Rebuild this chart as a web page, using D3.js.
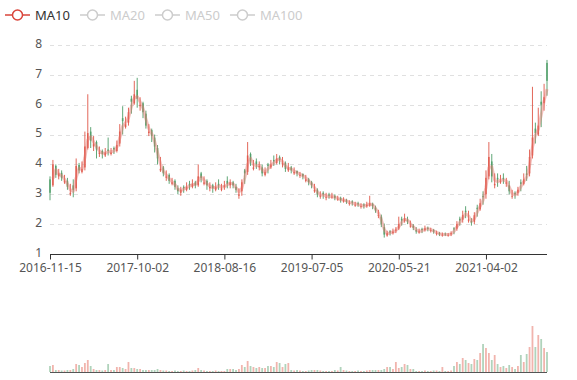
<!DOCTYPE html>
<html><head><meta charset="utf-8">
<script src="https://cdn.jsdelivr.net/npm/d3@7/dist/d3.min.js"></script>
<style>body{margin:0;background:#fff}svg{display:block}</style>
</head><body><svg id="c" width="577" height="380"></svg>
<script>
// ---- data (one candle ≈ 7 trading days) ----
const tickLabels = ["2016-11-15","2017-10-02","2018-08-16","2019-07-05","2020-05-21","2021-04-02"];
const tickEvery = 30;
const legendNames = ["MA10","MA20","MA50","MA100"];
const open = [
3.50,3.30,3.95,3.60,3.72,3.40,3.45,3.00,3.30,3.20,
3.98,3.75,3.90,4.55,5.10,4.60,4.75,4.35,4.45,4.30,
4.50,4.35,4.55,4.45,4.70,5.55,5.25,5.40,6.20,6.05,
6.50,5.95,6.05,5.70,5.05,5.15,4.90,4.55,3.80,3.90,
3.55,3.65,3.35,3.45,3.20,3.05,3.25,3.15,3.35,3.25,
3.40,3.30,3.70,3.35,3.45,3.20,3.30,3.15,3.35,3.15,
3.25,3.45,3.30,3.40,3.25,2.95,3.10,3.80,3.75,4.35,
3.85,4.10,3.90,3.90,3.65,4.00,3.90,4.15,4.05,4.25,
4.00,4.05,3.80,3.90,3.70,3.78,3.62,3.68,3.45,3.50,
3.40,3.10,3.15,2.92,3.05,2.88,3.00,2.90,2.95,2.82,
2.88,2.76,2.80,2.68,2.76,2.62,2.70,2.58,2.66,2.60,
2.62,2.68,2.55,2.28,2.25,1.90,1.62,1.76,1.70,1.78,
1.85,2.18,2.10,2.15,1.92,1.95,1.80,1.72,1.84,1.80,
1.88,1.78,1.80,1.68,1.70,1.62,1.68,1.62,1.66,1.86,
1.85,2.18,2.15,2.45,2.12,2.10,2.08,2.55,2.50,2.95,
3.00,3.60,4.10,3.30,3.55,3.40,3.55,3.35,3.30,2.92,
3.05,3.05,3.40,3.35,3.70,3.70,4.30,5.20,5.00,6.10,
6.05,7.40];
const close = [
3.05,4.00,3.65,3.70,3.55,3.45,3.25,3.05,3.15,3.95,
3.80,3.85,4.60,5.05,4.80,4.70,4.50,4.40,4.35,4.40,
4.45,4.40,4.50,4.65,5.10,5.45,5.35,5.75,6.10,6.35,
6.20,6.00,5.75,5.30,5.10,4.95,4.60,4.20,3.85,3.70,
3.60,3.45,3.40,3.25,3.10,3.15,3.20,3.25,3.30,3.35,
3.30,3.60,3.55,3.40,3.30,3.25,3.20,3.25,3.30,3.20,
3.30,3.35,3.40,3.30,3.15,3.00,3.40,3.70,4.30,4.10,
3.90,4.00,3.95,3.70,3.75,3.95,4.00,4.10,4.20,4.15,
4.05,3.85,3.90,3.80,3.75,3.70,3.65,3.60,3.50,3.40,
3.30,3.15,3.00,2.95,3.00,2.90,2.95,2.92,2.88,2.85,
2.80,2.82,2.75,2.70,2.72,2.65,2.66,2.60,2.62,2.65,
2.70,2.60,2.45,2.30,2.00,1.65,1.70,1.72,1.75,1.82,
2.00,2.12,2.20,2.08,1.95,1.88,1.75,1.76,1.80,1.86,
1.84,1.80,1.75,1.70,1.66,1.65,1.66,1.64,1.70,1.82,
2.00,2.12,2.30,2.40,2.15,2.05,2.30,2.50,2.70,2.90,
3.55,4.25,3.60,3.35,3.50,3.45,3.50,3.40,3.10,2.95,
3.00,3.15,3.35,3.50,3.65,4.25,4.90,5.05,5.30,6.00,
6.25,6.80];
const high = [
3.60,4.15,4.00,3.85,3.80,3.65,3.55,3.35,3.50,4.20,
4.05,4.10,5.10,6.35,5.25,4.95,4.80,4.60,4.50,4.55,
4.90,4.55,4.60,4.80,5.35,5.95,5.60,5.90,6.30,6.80,
6.90,6.25,6.10,5.80,5.35,5.20,5.00,4.65,4.25,3.95,
3.80,3.70,3.55,3.50,3.30,3.25,3.30,3.40,3.45,3.50,
3.45,4.00,3.75,3.60,3.50,3.40,3.35,3.40,3.50,3.35,
3.45,3.60,3.50,3.45,3.35,3.20,3.50,3.85,4.75,4.40,
4.15,4.20,4.10,4.00,3.90,4.05,4.15,4.30,4.35,4.30,
4.25,4.10,4.05,3.95,3.90,3.80,3.75,3.70,3.65,3.55,
3.45,3.35,3.20,3.10,3.10,3.05,3.05,3.05,3.00,2.95,
2.92,2.90,2.85,2.80,2.80,2.75,2.75,2.70,2.70,2.75,
2.95,2.72,2.62,2.48,2.32,2.02,1.78,1.80,1.85,1.90,
2.25,2.25,2.35,2.25,2.12,2.00,1.90,1.85,1.88,1.95,
1.92,1.88,1.84,1.78,1.74,1.72,1.72,1.70,1.76,1.90,
2.10,2.25,2.45,2.60,2.45,2.20,2.40,2.65,2.85,3.10,
3.80,4.75,4.35,3.70,3.70,3.65,3.70,3.55,3.45,3.15,
3.10,3.25,3.50,3.70,3.95,4.50,6.60,5.40,5.90,6.45,
6.70,7.50];
const low = [
2.80,3.25,3.55,3.50,3.45,3.35,3.15,2.95,2.90,3.10,
3.70,3.70,3.80,4.50,4.55,4.45,4.20,4.25,4.20,4.25,
4.30,4.30,4.35,4.40,4.60,5.00,5.20,5.30,5.70,6.00,
5.90,5.80,5.55,5.20,4.95,4.75,4.40,4.00,3.75,3.60,
3.45,3.35,3.30,3.15,3.00,2.95,3.05,3.10,3.15,3.20,
3.20,3.25,3.40,3.30,3.15,3.10,3.05,3.10,3.15,3.10,
3.15,3.20,3.20,3.20,3.05,2.85,2.95,3.35,3.65,3.95,
3.80,3.85,3.80,3.60,3.60,3.70,3.85,3.95,4.00,4.00,
3.90,3.75,3.75,3.70,3.65,3.60,3.55,3.50,3.40,3.30,
3.20,3.05,2.90,2.85,2.85,2.80,2.85,2.85,2.80,2.78,
2.72,2.72,2.68,2.62,2.62,2.58,2.58,2.52,2.52,2.55,
2.58,2.50,2.38,2.20,1.90,1.55,1.58,1.62,1.65,1.70,
1.80,1.95,2.05,2.00,1.88,1.80,1.68,1.68,1.70,1.75,
1.76,1.72,1.68,1.62,1.60,1.58,1.60,1.58,1.60,1.66,
1.78,1.95,2.05,2.20,2.05,1.95,2.00,2.25,2.45,2.65,
2.85,3.50,3.40,3.20,3.25,3.35,3.35,3.25,3.00,2.85,
2.85,2.95,3.10,3.30,3.45,3.60,4.20,4.70,4.95,5.25,
5.80,6.30];
const volume = [
6,7,2,2,1.5,1.5,2,2,3,8,
7,5,9,12,6,3,2,2,1.5,2,
8,2,2,5,5,4,3,10,4,4,
3,3,2,2,2,2,2,3,2,1.5,
1.5,1,1,1.5,1,1,1.5,1,1,1.5,
2,4,2,1.5,1,1,1,1.5,1,1,
1,3,3,3,2,3,7,5,11,6,
5,4,5,4,4,6,6,5,10,9,
5,8,9,2,1.5,2,1.5,1,1,1.5,
2,2,2,1.5,1,1,1,1,2,1.5,
5,2,1.5,1,1,1,1.5,1,1,1.5,
2,2,2,2,2,3,5,5,3,10,
4,5,8,7,3,3,1,1,1,1.5,
1,1,1.5,1.5,1,5,1,1,1.5,6,
10,8,14,12,9,8,13,12,19,28,
24,19,12,17,8,5,6,4,7,5,
3,6,17,10,18,25,46,25,37,33,
24,20];

// ---- drawing ----
const svg = d3.select("#c");
const left = 50, right = 547;
const upColor = "#e0584a", downColor = "#4f9e69";
const maColor = "#d9443a";
const font = "'Microsoft YaHei','Noto Sans',sans-serif";
const N = close.length;
const idx = d3.range(N);

const x = d3.scalePoint().domain(idx).range([left, right]);
const y = d3.scaleLinear().domain([1, 8]).range([254, 45]);
const yv = d3.scaleLinear().domain([0, 72]).range([372, 300]);

// gridlines
svg.append("g").selectAll("line").data(y.ticks(7)).join("line")
  .attr("x1", left).attr("x2", right)
  .attr("y1", d => Math.round(y(d)) + 0.5).attr("y2", d => Math.round(y(d)) + 0.5)
  .attr("stroke", "#e0e0e0").attr("stroke-dasharray", "4,4");

// y axis labels
const ya = svg.append("g").attr("transform", `translate(${left},-1.5)`)
  .call(d3.axisLeft(y).ticks(7).tickSize(0).tickPadding(8).tickFormat(d3.format("d")));
ya.select(".domain").remove();
ya.selectAll("text").attr("font-family", font).attr("font-size", 12).attr("fill", "#555");

// x axis
const xa = svg.append("g").attr("transform", `translate(0,${Math.round(y(1)) + 0.5})`)
  .call(d3.axisBottom(x).tickValues(idx.filter(i => i % tickEvery === 0 && i / tickEvery < tickLabels.length))
    .tickFormat(i => tickLabels[i / tickEvery]).tickSize(5).tickSizeOuter(0).tickPadding(4));
xa.select(".domain").attr("stroke", "#333").attr("d", `M${left},0H${right}`);
xa.selectAll(".tick line").attr("stroke", "#333");
xa.selectAll("text").attr("font-family", font).attr("font-size", 12).attr("fill", "#555");

// candles
const bw = 1.6;
const cg = svg.append("g");
idx.forEach(i => {
  const up = close[i] >= open[i];
  const col = up ? upColor : downColor;
  const cx = x(i);
  cg.append("line").attr("x1", cx).attr("x2", cx)
    .attr("y1", y(high[i])).attr("y2", y(low[i]))
    .attr("stroke", col).attr("stroke-width", 1).attr("opacity", 0.9);
  const yt = y(Math.max(open[i], close[i])), yb = y(Math.min(open[i], close[i]));
  cg.append("rect").attr("x", cx - bw / 2).attr("y", yt)
    .attr("width", bw).attr("height", Math.max(0.8, yb - yt))
    .attr("fill", col).attr("opacity", 0.9);
});

// MA line (moving average of the candle closes)
const ma = idx.map(i => i < 1 ? null : d3.mean(close.slice(i - 1, i + 1)));
svg.append("path").datum(idx.filter(i => ma[i] != null))
  .attr("d", d3.line().x(i => x(i)).y(i => y(ma[i])))
  .attr("fill", "none").attr("stroke", "#e4766c").attr("stroke-width", 3)
  .attr("stroke-opacity", 0.45).attr("stroke-linejoin", "round");

// volume
svg.append("g").selectAll("rect").data(idx).join("rect")
  .attr("x", i => x(i) - 0.9).attr("width", 1.8)
  .attr("y", i => yv(volume[i])).attr("height", i => yv(0) - yv(volume[i]))
  .attr("fill", i => close[i] >= open[i] ? upColor : downColor)
  .attr("opacity", 0.45);
svg.append("line").attr("x1", left).attr("x2", right)
  .attr("y1", yv(0) + 0.5).attr("y2", yv(0) + 0.5).attr("stroke", "#555");

// legend
const lg = svg.append("g");
let lx = 5;
legendNames.forEach((name, k) => {
  const col = k === 0 ? maColor : "#ccc";
  const g = lg.append("g").attr("transform", `translate(${lx},15)`);
  g.append("line").attr("x1", 0).attr("x2", 25).attr("y1", 0).attr("y2", 0)
    .attr("stroke", col).attr("stroke-width", 1.5);
  g.append("circle").attr("cx", 12.5).attr("cy", 0).attr("r", 5)
    .attr("fill", "#fff").attr("stroke", col).attr("stroke-width", 1.5);
  const t = g.append("text").attr("x", 30).attr("y", 0).attr("dy", "0.35em")
    .attr("font-family", font).attr("font-size", 13)
    .attr("fill", k === 0 ? "#333" : "#ccc").text(name);
  lx += 30 + t.node().getComputedTextLength() + 10;
});
</script>
</body></html>
